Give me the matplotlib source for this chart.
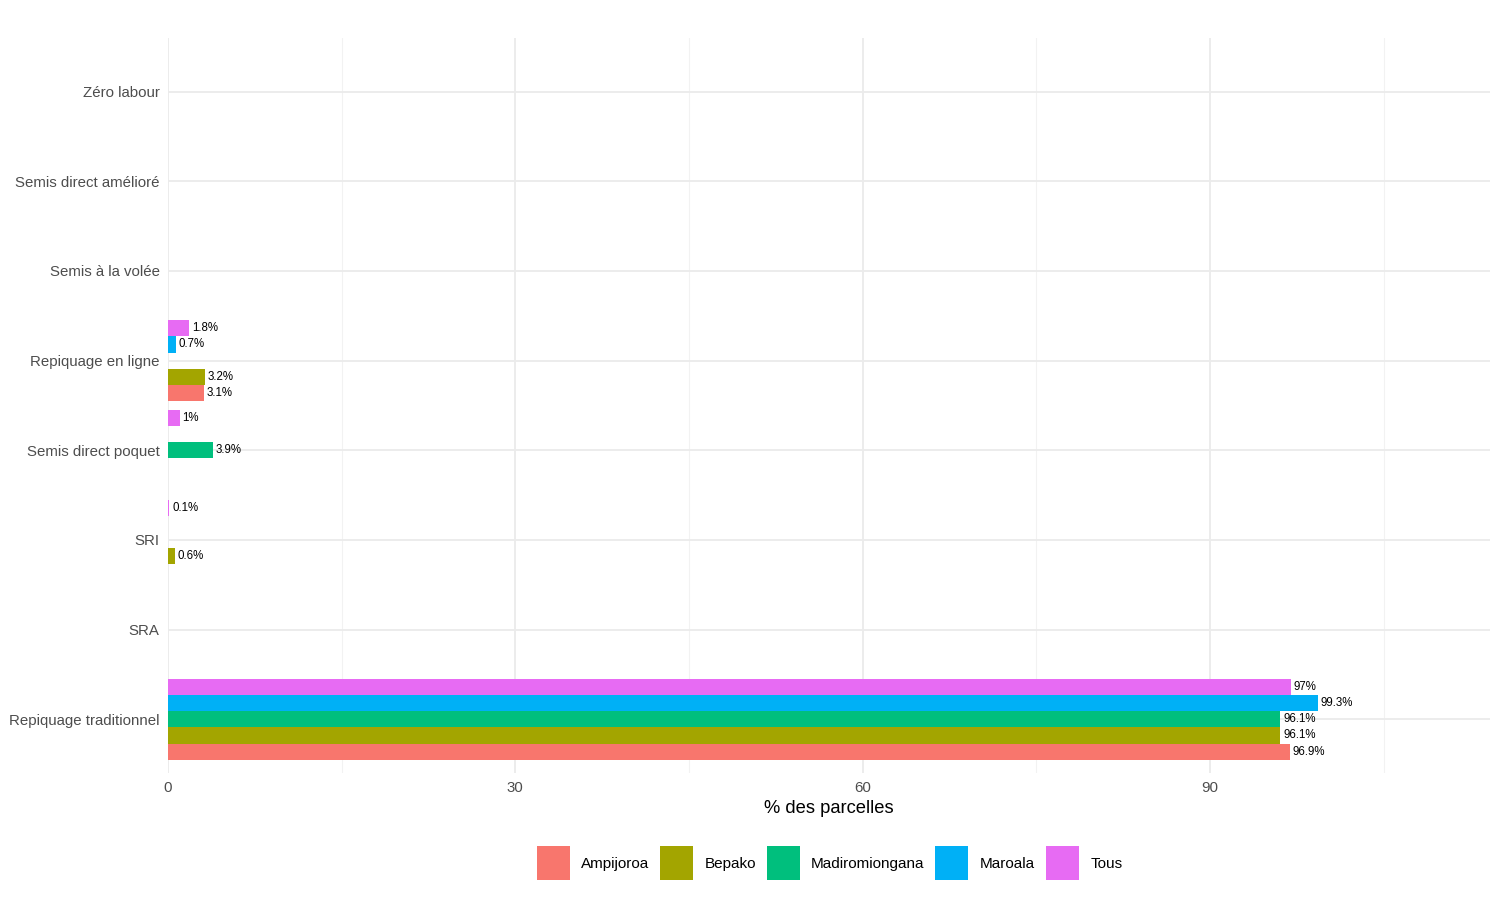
import numpy as np
import matplotlib
matplotlib.use("Agg")
import matplotlib.pyplot as plt
from matplotlib.patches import Patch

plt.rcParams['font.family'] = ['Liberation Sans', 'DejaVu Sans']

# categories, bottom to top
methods = ["Repiquage traditionnel", "SRA", "SRI", "Semis direct poquet",
           "Repiquage en ligne", "Semis à la volée", "Semis direct amélioré",
           "Zéro labour"]
sites = ["Ampijoroa", "Bepako", "Madiromiongana", "Maroala", "Tous"]
colors = ["#F8766D", "#A3A500", "#00BF7D", "#00B0F6", "#E76BF3"]

# % des parcelles, one list per site (same order as methods)
ampijoroa = [96.9, 0, 0, 0, 3.1, 0, 0, 0]
bepako = [96.1, 0, 0.6, 0, 3.2, 0, 0, 0]
madiromiongana = [96.1, 0, 0, 3.9, 0, 0, 0, 0]
maroala = [99.3, 0, 0, 0, 0.7, 0, 0, 0]
tous = [97, 0, 0.1, 1, 1.8, 0, 0, 0]
values = [ampijoroa, bepako, madiromiongana, maroala, tous]

fig = plt.figure(figsize=(15, 9), dpi=100)
ax = fig.add_axes([0.112, 0.141, 0.8813, 0.817])

y = np.arange(len(methods))
h = 0.9 / len(sites)
for i, (vals, col) in enumerate(zip(values, colors)):
    pos = y + (i - 2) * h
    ax.barh(pos, vals, height=h, color=col, zorder=3)
    for p, v in zip(pos, vals):
        if v > 0:
            ax.text(v + 0.25, p, f"{v:g}%", va="center", ha="left",
                    fontsize=8.3, color="black", zorder=4)

xmax = max(max(v) for v in values) * 1.15
ax.set_xlim(0, xmax)
ax.set_ylim(-0.6, len(methods) - 0.4)
ax.set_yticks(y)
ax.set_yticklabels(methods)
ax.set_xticks([0, 30, 60, 90])
ax.set_xticks([15, 45, 75, 105], minor=True)
ax.grid(which="major", color="#EBEBEB", lw=1.3, zorder=0)
ax.grid(which="minor", axis="x", color="#F2F2F2", lw=0.8, zorder=0)
ax.tick_params(which="both", length=0, labelsize=10.8, labelcolor="#4D4D4D", pad=6)
for s in ax.spines.values():
    s.set_visible(False)
ax.set_xlabel("% des parcelles", fontsize=13.2, labelpad=3)

handles = [Patch(facecolor=c, edgecolor="none") for c in colors]
fig.legend(handles, sites, loc="center", bbox_to_anchor=(0.553, 0.041), ncol=5,
           frameon=False, fontsize=11, handlelength=2.16, handleheight=3.0,
           handletextpad=0.75, columnspacing=0.7)

fig.savefig("out.png", dpi=100, facecolor="white")
